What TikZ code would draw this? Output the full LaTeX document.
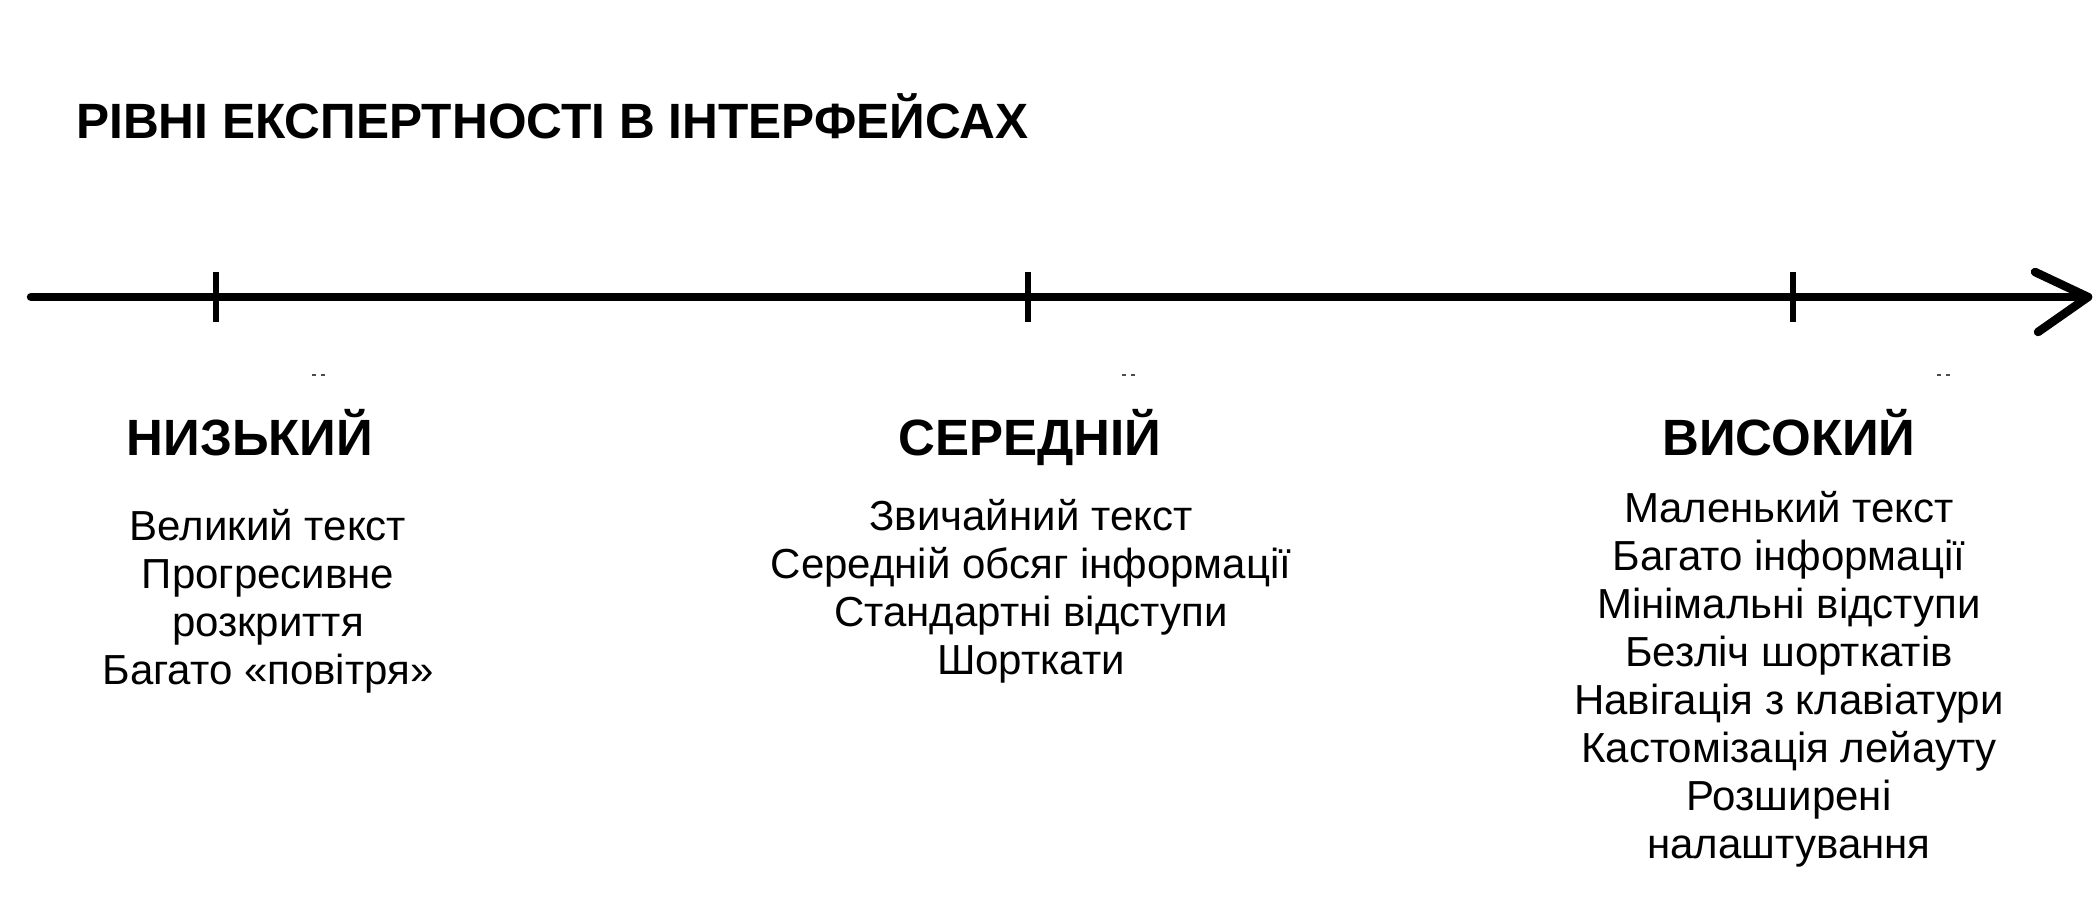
\documentclass[tikz,border=0pt]{standalone}
\usepackage{fontspec}
\setmainfont{Liberation Sans}
\begin{document}
\begin{tikzpicture}[x=1pt,y=-1pt,
  axisline/.style={line width=8.5pt, line cap=round, line join=round},
  tickline/.style={line width=6pt, line cap=butt},
  titletext/.style={font=\bfseries\fontsize{49.6}{58}\selectfont, inner sep=0, anchor=base west},
  headtext/.style={font=\bfseries\fontsize{51}{58}\selectfont, inner sep=0, anchor=base},
  bodytext/.style={font=\fontsize{42}{48}\selectfont, inner sep=0, anchor=base},
  speck/.style={line width=1.5pt, black!70}]
\useasboundingbox (0,0) rectangle (2100,905);
\fill[white] (0,0) rectangle (2100,905);
% title
\node[titletext] (title) at (76,138) {РІВНІ ЕКСПЕРТНОСТІ В ІНТЕРФЕЙСАХ};
% axis
\coordinate (axstart) at (31,297);
\coordinate (axtip) at (2088,297);
\coordinate (arrA) at (2035,272);
\coordinate (arrB) at (2038,332);
\draw[axisline] (axstart) -- (axtip);
\draw[axisline] (arrA) -- (axtip) -- (arrB);
% ticks
\foreach \x/\n in {216/tA,1028/tB,1793/tC}{
  \coordinate (\n top) at (\x,272);
  \coordinate (\n bot) at (\x,322);
  \draw[tickline] (\n top) -- (\n bot);
}
% specks
\foreach \x in {312,1122,1937}{
  \draw[speck] (\x,375) -- (\x+4,375);
  \draw[speck] (\x+9,375) -- (\x+13,375);
}
% headings
\node[headtext] (hlow) at (250,455) {НИЗЬКИЙ};
\node[headtext] (hmid) at (1030,455) {СЕРЕДНІЙ};
\node[headtext] (hhigh) at (1789,455) {ВИСОКИЙ};
% body
\foreach \t [count=\i] in {Великий текст,Прогресивне,розкриття,Багато «повітря»}{
  \node[bodytext] (low\i) at (268,{540+48*(\i-1)}) {\t};
}
\foreach \t [count=\i] in {Звичайний текст,Середній обсяг інформації,Стандартні відступи,Шорткати}{
  \node[bodytext] (mid\i) at (1031,{530+48*(\i-1)}) {\t};
}
\foreach \t [count=\i] in {Маленький текст,Багато інформації,Мінімальні відступи,Безліч шорткатів,Навігація з клавіатури,Кастомізація лейауту,Розширені,налаштування}{
  \node[bodytext] (high\i) at (1789,{522+48*(\i-1)}) {\t};
}
\end{tikzpicture}
\end{document}
